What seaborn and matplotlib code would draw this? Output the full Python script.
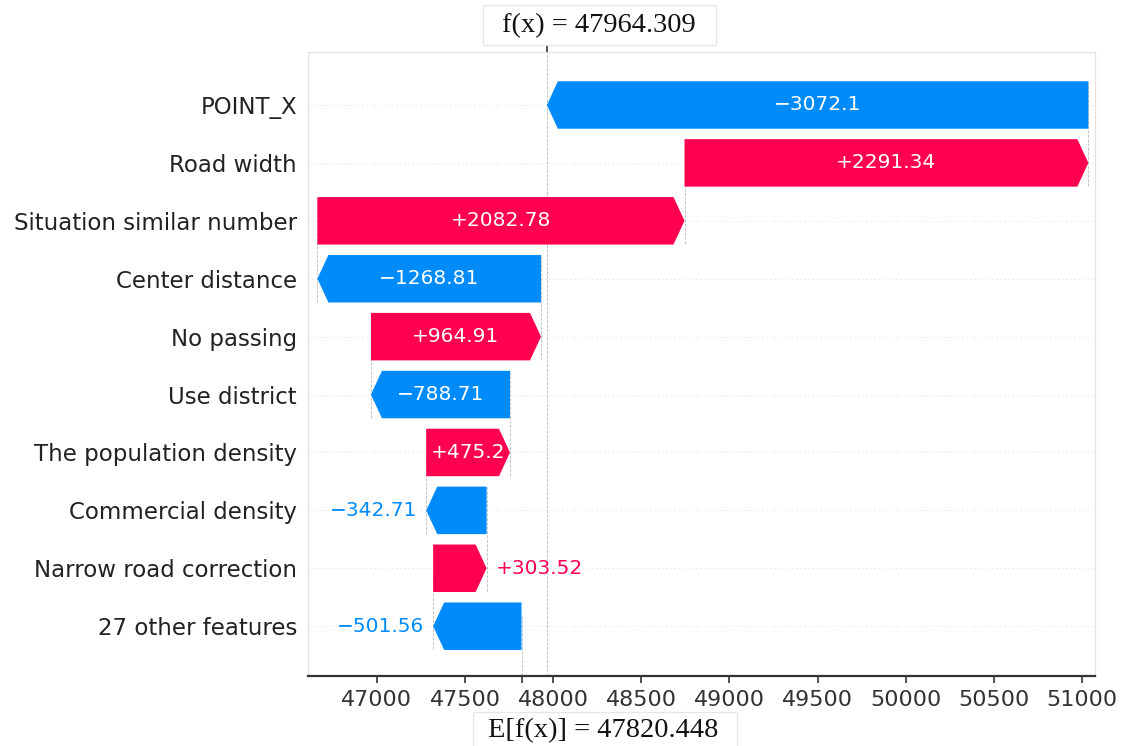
import matplotlib
matplotlib.use("Agg")
import matplotlib.pyplot as plt
from matplotlib.patches import Rectangle
import seaborn as sns

# Feature contributions, listed from top row to bottom row
features = ["POINT_X", "Road width", "Situation similar number", "Center distance",
            "No passing", "Use district", "The population density",
            "Commercial density", "Narrow road correction", "27 other features"]
shap_values = [-3072.1, 2291.34, 2082.78, -1268.81, 964.91, -788.71,
               475.2, -342.71, 303.52, -501.56]
base_value = 47820.448
fx_value = 47964.309
xticks = [47000, 47500, 48000, 48500, 49000, 49500, 50000, 50500, 51000]

RED = "#ff0051"
BLUE = "#008bfb"

sns.set_theme(style="white")
plt.rcParams["font.family"] = ["DejaVu Sans"]

W, H = 1122, 746
fig = plt.figure(figsize=(W / 100, H / 100), dpi=100)
ax = fig.add_axes([308 / W, 1 - 676 / H, (1095 - 308) / W, (676 - 52) / H])

n = len(features)
xlim = (46609, 51074)
ax.set_xlim(*xlim)
ax.set_ylim(-0.86, n - 1 + 0.915)

ax_px = (1095 - 308)
px_per_unit = ax_px / (xlim[1] - xlim[0])
head = 11 / px_per_unit
bar_h = 0.82
num_fs = 14.5

# horizontal guide lines
for i in range(n):
    ax.axhline(i, color="#cccccc", lw=0.6, dashes=(1, 4), zorder=-1)

# waterfall, built from the bottom row upward
fig.canvas.draw()
renderer = fig.canvas.get_renderer()
start = base_value
vals_bottom_up = shap_values[::-1]
feats_bottom_up = features[::-1]
for k, v in enumerate(vals_bottom_up):
    y = k
    end = start + v
    width = abs(v)
    hl = min(head, width)
    color = RED if v > 0 else BLUE
    sgn = 1 if v > 0 else -1
    body_end = end - sgn * hl
    xs = [start, body_end, end, body_end, start]
    ys = [y - bar_h / 2, y - bar_h / 2, y, y + bar_h / 2, y + bar_h / 2]
    ax.fill(xs, ys, color=color, lw=0, zorder=3)

    # dotted connector to the bar below
    if k > 0:
        ax.plot([start, start], [k - 1 - 0.4, k + 0.4], color="#bbbbbb",
                ls="--", lw=0.6, zorder=-1)

    label = ("+" if v > 0 else "\u2212") + f"{abs(v):g}"
    t = ax.text((start + end) / 2, y, label, ha="center", va="center",
                color="white", fontsize=num_fs, zorder=4)
    tw = t.get_window_extent(renderer).width
    if tw + 6 > width * px_per_unit:
        t.remove()
        off = 9 / px_per_unit
        if v > 0:
            ax.text(end + off, y, label, ha="left", va="center", color=RED,
                    fontsize=num_fs, zorder=4)
        else:
            ax.text(end - off, y, label, ha="right", va="center", color=BLUE,
                    fontsize=num_fs, zorder=4)
    start = end

ax.axvline(base_value, 0, 1 / n, color="#bbbbbb", ls="--", lw=0.6, zorder=-1)
ax.axvline(fx_value, 0, 1, color="#bbbbbb", ls="--", lw=0.6, zorder=-1)

ax.set_yticks(range(n))
ax.set_yticklabels(feats_bottom_up, fontsize=16.5, color="#222222")
ax.tick_params(axis="y", length=0, pad=8)
ax.set_xticks(xticks)
ax.set_xticklabels([str(x) for x in xticks], fontsize=16, color="#333333")
ax.tick_params(axis="x", direction="out", length=5, width=1.2, color="#333333",
               bottom=True, pad=5)
ax.grid(False)

for side in ["top", "left", "right"]:
    ax.spines[side].set_color("#e2e2e2")
    ax.spines[side].set_linewidth(0.9)
ax.spines["bottom"].set_color("#333333")
ax.spines["bottom"].set_linewidth(1.6)

# tick marking the expected value on the bottom axis
ax2 = ax.twiny()
ax2.set_xlim(*xlim)
ax2.xaxis.set_ticks_position("bottom")
ax2.set_xticks([base_value])
ax2.set_xticklabels([""])
ax2.tick_params(axis="x", direction="out", length=5, width=1.2, color="#333333")
for s in ax2.spines.values():
    s.set_visible(False)

# tick marking the model output on the top axis
ax3 = ax.twiny()
ax3.set_xlim(*xlim)
ax3.set_xticks([fx_value])
ax3.set_xticklabels([""])
ax3.tick_params(axis="x", direction="out", length=4, width=1.2, color="#333333")
for s in ax3.spines.values():
    s.set_visible(False)

# boxed annotations for f(x) and E[f(x)]
serif = ["Liberation Serif", "DejaVu Serif"]
fig.patches.append(Rectangle((483 / W, 1 - 45 / H), (716 - 483) / W, 40 / H,
                             transform=fig.transFigure, facecolor="white",
                             edgecolor="#e6e6e6", lw=0.9, zorder=5))
fig.text(599 / W, 1 - 26 / H, "f(x) = 47964.309", ha="center", va="center",
         fontsize=20.4, family=serif, color="#111111", zorder=6)
fig.patches.append(Rectangle((473 / W, -2 / H), (737 - 473) / W, 36 / H,
                             transform=fig.transFigure, facecolor="white",
                             edgecolor="#e6e6e6", lw=0.9, zorder=5))
fig.text(603 / W, 1 - 731 / H, "E[f(x)] = 47820.448", ha="center", va="center",
         fontsize=20.4, family=serif, color="#111111", zorder=6)

fig.savefig("out.png", dpi=100)
